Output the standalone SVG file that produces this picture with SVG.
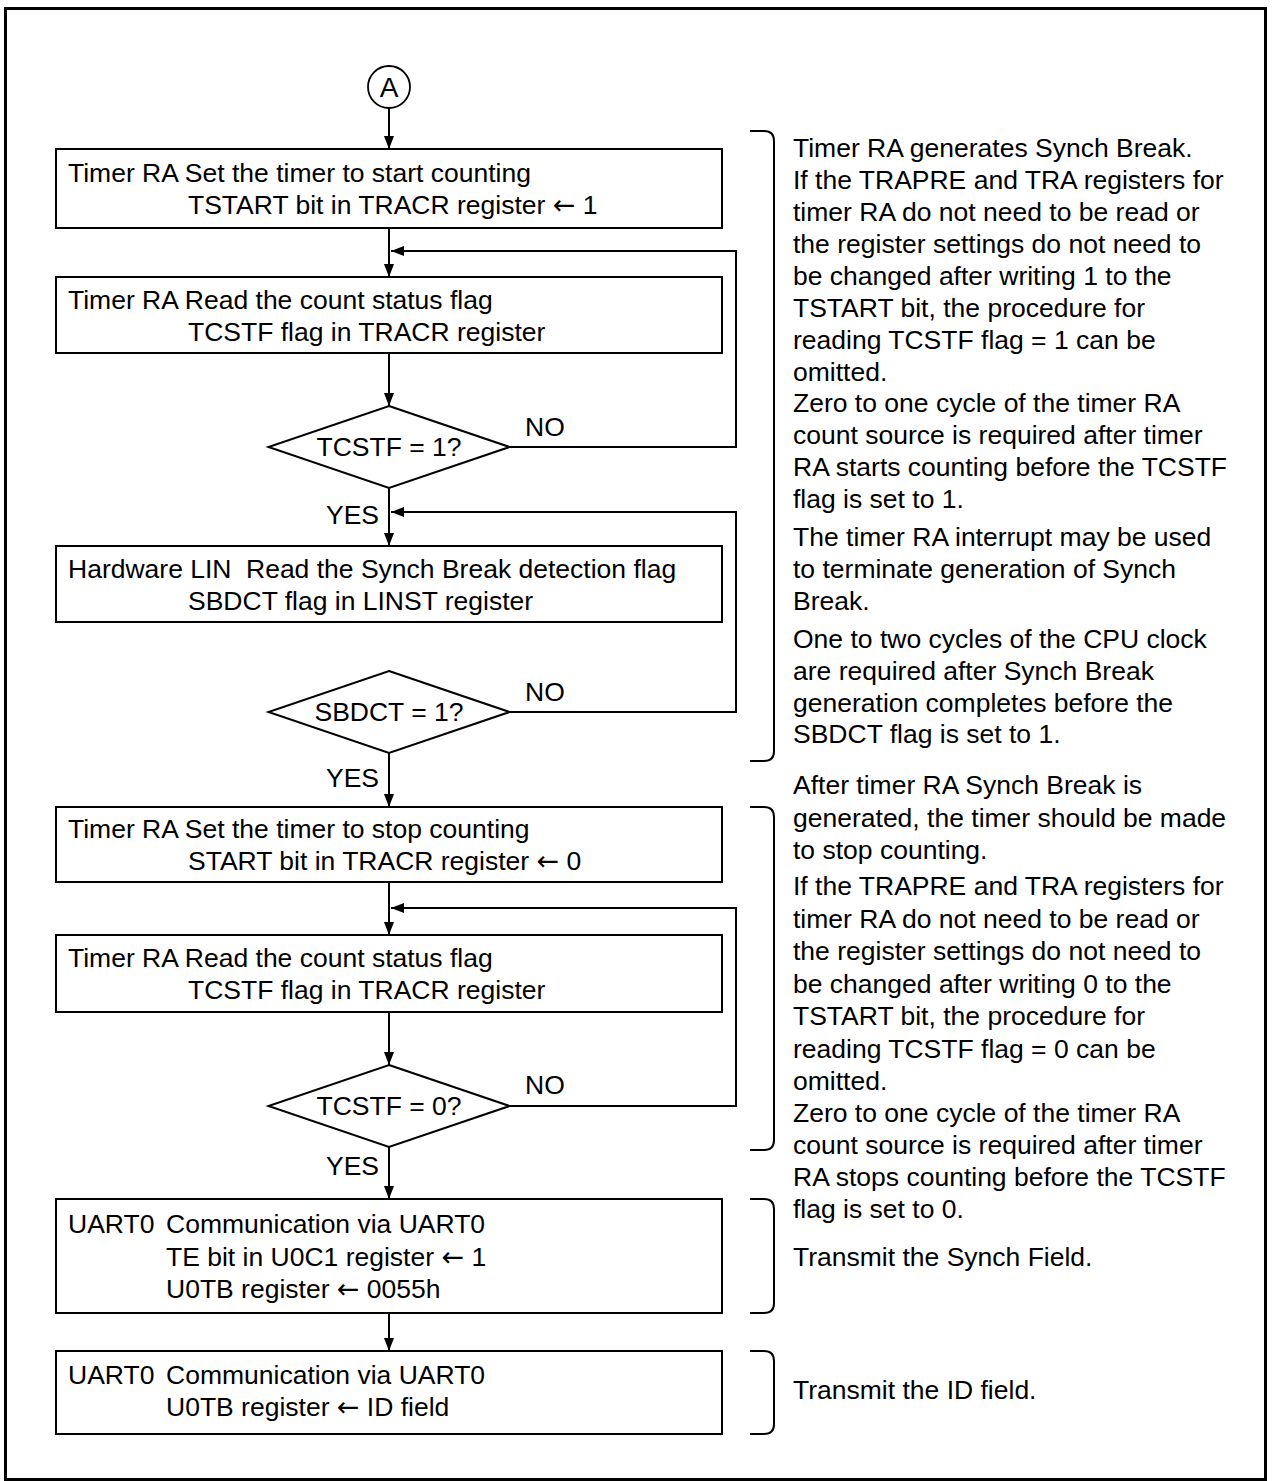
<svg xmlns="http://www.w3.org/2000/svg" width="1272" height="1481" viewBox="0 0 1272 1481">
<style>
text{font-family:"Liberation Sans",Arial,sans-serif;font-size:26.5px;fill:#000}
.arr{font-family:"DejaVu Sans",sans-serif;font-size:27px}
.box{fill:#fff;stroke:#000;stroke-width:2}
.ln{fill:none;stroke:#000;stroke-width:2}
.br{fill:none;stroke:#000;stroke-width:2}
.mid{text-anchor:middle}
.end{text-anchor:end}
</style>
<defs>
<marker id="ah" markerUnits="userSpaceOnUse" markerWidth="14" markerHeight="10" refX="13" refY="5" orient="auto">
<path d="M0,0 L13,5 L0,10 z" fill="#000"/>
</marker>
</defs>
<rect x="5.5" y="8.5" width="1260" height="1471" fill="#fff" stroke="#000" stroke-width="3"/>

<g id="connectors">
<line class="ln" x1="389" y1="108" x2="389" y2="149" marker-end="url(#ah)"/>
<line class="ln" x1="389" y1="228" x2="389" y2="277" marker-end="url(#ah)"/>
<line class="ln" x1="389" y1="353" x2="389" y2="406" marker-end="url(#ah)"/>
<polyline class="ln" points="509.5,447 736,447 736,251 391,251" marker-end="url(#ah)"/>
<line class="ln" x1="389" y1="488" x2="389" y2="546" marker-end="url(#ah)"/>
<polyline class="ln" points="509.5,712 736,712 736,512 391,512" marker-end="url(#ah)"/>
<line class="ln" x1="389" y1="753" x2="389" y2="807" marker-end="url(#ah)"/>
<line class="ln" x1="389" y1="882" x2="389" y2="935" marker-end="url(#ah)"/>
<polyline class="ln" points="509.5,1106 736,1106 736,908 391,908" marker-end="url(#ah)"/>
<line class="ln" x1="389" y1="1012" x2="389" y2="1065" marker-end="url(#ah)"/>
<line class="ln" x1="389" y1="1147" x2="389" y2="1199" marker-end="url(#ah)"/>
<line class="ln" x1="389" y1="1313" x2="389" y2="1351" marker-end="url(#ah)"/>
<text x="525" y="436">NO</text>
<text x="525" y="701">NO</text>
<text x="525" y="1094">NO</text>
<text class="end" x="379" y="524">YES</text>
<text class="end" x="379" y="787">YES</text>
<text class="end" x="379" y="1175">YES</text>
</g>

<g id="start">
<circle cx="389" cy="87" r="21" fill="#fff" stroke="#000" stroke-width="1.8"/>
<text class="mid" x="389" y="97" style="font-size:28px">A</text>
</g>

<g id="box1">
<rect class="box" x="56" y="149" width="666" height="79"/>
<text x="68" y="182">Timer RA Set the timer to start counting</text>
<text x="188" y="214">TSTART bit in TRACR register <tspan class="arr">←</tspan> 1</text>
</g>

<g id="box2">
<rect class="box" x="56" y="277" width="666" height="76"/>
<text x="68" y="308.5">Timer RA Read the count status flag</text>
<text x="188" y="340.5">TCSTF flag in TRACR register</text>
</g>

<g id="dec1">
<polygon class="box" points="389,406 509.5,447 389,488 268.5,447"/>
<text class="mid" x="389" y="456">TCSTF = 1?</text>
</g>

<g id="box3">
<rect class="box" x="56" y="546" width="666" height="76"/>
<text x="68" y="577.5">Hardware LIN<tspan x="246">Read the Synch Break detection flag</tspan></text>
<text x="188" y="609.5">SBDCT flag in LINST register</text>
</g>

<g id="dec2">
<polygon class="box" points="389,671 509.5,712 389,753 268.5,712"/>
<text class="mid" x="389" y="721">SBDCT = 1?</text>
</g>

<g id="box4">
<rect class="box" x="56" y="807" width="666" height="75"/>
<text x="68" y="838">Timer RA Set the timer to stop counting</text>
<text x="188" y="870">START bit in TRACR register <tspan class="arr">←</tspan> 0</text>
</g>

<g id="box5">
<rect class="box" x="56" y="935" width="666" height="77"/>
<text x="68" y="967">Timer RA Read the count status flag</text>
<text x="188" y="999">TCSTF flag in TRACR register</text>
</g>

<g id="dec3">
<polygon class="box" points="389,1065 509.5,1106 389,1147 268.5,1106"/>
<text class="mid" x="389" y="1115">TCSTF = 0?</text>
</g>

<g id="box6">
<rect class="box" x="56" y="1199" width="666" height="114"/>
<text x="68" y="1233">UART0<tspan x="166">Communication via UART0</tspan></text>
<text x="166" y="1265.5">TE bit in U0C1 register <tspan class="arr">←</tspan> 1</text>
<text x="166" y="1297.5">U0TB register <tspan class="arr">←</tspan> 0055h</text>
</g>

<g id="box7">
<rect class="box" x="56" y="1351" width="666" height="83"/>
<text x="68" y="1384">UART0<tspan x="166">Communication via UART0</tspan></text>
<text x="166" y="1416">U0TB register <tspan class="arr">←</tspan> ID field</text>
</g>

<g id="note1">
<path class="br" d="M750,131 H764 Q774,131 774,141 V751 Q774,761 764,761 H750"/>
<text x="793" y="157">Timer RA generates Synch Break.</text>
<text x="793" y="189">If the TRAPRE and TRA registers for</text>
<text x="793" y="221">timer RA do not need to be read or</text>
<text x="793" y="253">the register settings do not need to</text>
<text x="793" y="285">be changed after writing 1 to the</text>
<text x="793" y="316.5">TSTART bit, the procedure for</text>
<text x="793" y="348.5">reading TCSTF flag = 1 can be</text>
<text x="793" y="380.5">omitted.</text>
<text x="793" y="412">Zero to one cycle of the timer RA</text>
<text x="793" y="444">count source is required after timer</text>
<text x="793" y="476">RA starts counting before the TCSTF</text>
<text x="793" y="508">flag is set to 1.</text>
<text x="793" y="546">The timer RA interrupt may be used</text>
<text x="793" y="578">to terminate generation of Synch</text>
<text x="793" y="610">Break.</text>
<text x="793" y="648">One to two cycles of the CPU clock</text>
<text x="793" y="680">are required after Synch Break</text>
<text x="793" y="712">generation completes before the</text>
<text x="793" y="743">SBDCT flag is set to 1.</text>
</g>

<g id="note2">
<path class="br" d="M750,807 H764 Q774,807 774,817 V1140 Q774,1150 764,1150 H750"/>
<text x="793" y="794">After timer RA Synch Break is</text>
<text x="793" y="826.5">generated, the timer should be made</text>
<text x="793" y="859">to stop counting.</text>
<text x="793" y="895">If the TRAPRE and TRA registers for</text>
<text x="793" y="927.5">timer RA do not need to be read or</text>
<text x="793" y="960">the register settings do not need to</text>
<text x="793" y="992.5">be changed after writing 0 to the</text>
<text x="793" y="1025">TSTART bit, the procedure for</text>
<text x="793" y="1057.5">reading TCSTF flag = 0 can be</text>
<text x="793" y="1090">omitted.</text>
<text x="793" y="1122">Zero to one cycle of the timer RA</text>
<text x="793" y="1154">count source is required after timer</text>
<text x="793" y="1186">RA stops counting before the TCSTF</text>
<text x="793" y="1218">flag is set to 0.</text>
</g>

<g id="note3">
<path class="br" d="M750,1199 H764 Q774,1199 774,1209 V1303 Q774,1313 764,1313 H750"/>
<text x="793" y="1266">Transmit the Synch Field.</text>
</g>

<g id="note4">
<path class="br" d="M750,1351 H764 Q774,1351 774,1361 V1424 Q774,1434 764,1434 H750"/>
<text x="793" y="1399">Transmit the ID field.</text>
</g>
</svg>
